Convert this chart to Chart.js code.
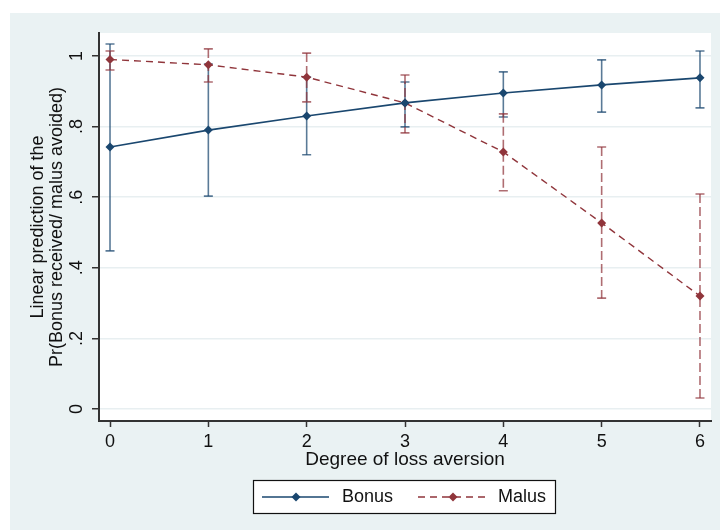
<!DOCTYPE html>
<html>
<head>
<meta charset="utf-8">
<script src="https://cdn.jsdelivr.net/npm/chart.js@4.4.1/dist/chart.umd.min.js"></script>
<style>
  html, body { margin: 0; padding: 0; background: #ffffff; }
  #wrap { width: 720px; height: 530px; }
</style>
</head>
<body>
<div id="wrap"><canvas id="chart" width="720" height="530"></canvas></div>
<script>
// values
const lossAversion = [0, 1, 2, 3, 4, 5, 6];
const bonusPred = [0.742, 0.790, 0.830, 0.867, 0.895, 0.918, 0.938];
const bonusLow  = [0.448, 0.603, 0.720, 0.799, 0.827, 0.841, 0.853];
const bonusHigh = [1.034, 0.977, 0.940, 0.926, 0.955, 0.989, 1.014];
const malusPred = [0.990, 0.975, 0.940, 0.867, 0.728, 0.527, 0.320];
const malusLow  = [0.960, 0.926, 0.870, 0.782, 0.618, 0.314, 0.031];
const malusHigh = [1.014, 1.020, 1.008, 0.946, 0.836, 0.742, 0.609];
const xTicks = [0, 1, 2, 3, 4, 5, 6];
const yTicks = [0, 0.2, 0.4, 0.6, 0.8, 1];
const yTickLabels = ["0", ".2", ".4", ".6", ".8", "1"];

const NAVY = "#1a476f";
const MAROON = "#90353b";
const FONT = "'Liberation Sans', Arial, sans-serif";

function toPoints(ys) {
  return lossAversion.map((x, i) => ({ x: x, y: ys[i] }));
}

// gray outer region + white plot region
const backdrop = {
  id: "backdrop",
  beforeDraw(chart) {
    const ctx = chart.ctx;
    const a = chart.chartArea;
    ctx.save();
    ctx.fillStyle = "#ffffff";
    ctx.fillRect(0, 0, chart.width, chart.height);
    ctx.fillStyle = "#eaf2f3";
    ctx.fillRect(10, 13, chart.width - 10, chart.height - 13);
    ctx.fillStyle = "#ffffff";
    ctx.fillRect(a.left, a.top, a.right - a.left, a.bottom - a.top);
    ctx.restore();
  }
};

// confidence interval caps drawn through the scales
const ciBars = {
  id: "ciBars",
  beforeDatasetsDraw(chart) {
    const ctx = chart.ctx;
    const xs = chart.scales.x;
    const ys = chart.scales.y;
    const sets = [
      { low: bonusLow, high: bonusHigh, color: "rgba(26,71,111,0.72)", dash: [] },
      { low: malusLow, high: malusHigh, color: "rgba(144,53,59,0.72)", dash: [9, 4] }
    ];
    ctx.save();
    sets.forEach(s => {
      ctx.strokeStyle = s.color;
      ctx.lineWidth = 1.6;
      lossAversion.forEach((x, i) => {
        const px = xs.getPixelForValue(x);
        const y1 = ys.getPixelForValue(s.high[i]);
        const y2 = ys.getPixelForValue(s.low[i]);
        ctx.setLineDash(s.dash);
        ctx.beginPath();
        ctx.moveTo(px, y1);
        ctx.lineTo(px, y2);
        ctx.stroke();
        ctx.setLineDash([]);
        ctx.beginPath();
        ctx.moveTo(px - 4.5, y1);
        ctx.lineTo(px + 4.5, y1);
        ctx.moveTo(px - 4.5, y2);
        ctx.lineTo(px + 4.5, y2);
        ctx.stroke();
      });
    });
    ctx.restore();
  }
};

// axis titles and boxed legend
const labels = {
  id: "labels",
  afterDraw(chart) {
    const ctx = chart.ctx;
    const a = chart.chartArea;
    ctx.save();
    ctx.fillStyle = "#111111";
    ctx.textBaseline = "middle";
    ctx.textAlign = "center";
    ctx.font = "19px " + FONT;
    ctx.fillText("Degree of loss aversion", (a.left + a.right) / 2, 460);

    ctx.save();
    ctx.translate(38, (a.top + a.bottom) / 2);
    ctx.rotate(-Math.PI / 2);
    ctx.font = "18px " + FONT;
    ctx.fillText("Linear prediction of the", 0, 0);
    ctx.fillText("Pr(Bonus received/ malus avoided)", 0, 19);
    ctx.restore();

    // legend box
    ctx.fillStyle = "#ffffff";
    ctx.fillRect(253, 480, 302, 33);
    ctx.strokeStyle = "#111111";
    ctx.lineWidth = 1.2;
    ctx.strokeRect(253.5, 480.5, 302, 33);

    const ly = 497;
    ctx.lineWidth = 1.5;
    ctx.strokeStyle = NAVY;
    ctx.beginPath();
    ctx.moveTo(262, ly);
    ctx.lineTo(329, ly);
    ctx.stroke();
    ctx.strokeStyle = MAROON;
    ctx.setLineDash([7, 5]);
    ctx.beginPath();
    ctx.moveTo(418, ly);
    ctx.lineTo(488, ly);
    ctx.stroke();
    ctx.setLineDash([]);
    [[296, NAVY], [453, MAROON]].forEach(m => {
      ctx.fillStyle = m[1];
      ctx.beginPath();
      ctx.moveTo(m[0], ly - 4.5);
      ctx.lineTo(m[0] + 4.5, ly);
      ctx.lineTo(m[0], ly + 4.5);
      ctx.lineTo(m[0] - 4.5, ly);
      ctx.closePath();
      ctx.fill();
    });
    ctx.fillStyle = "#111111";
    ctx.textAlign = "left";
    ctx.font = "18px " + FONT;
    ctx.fillText("Bonus", 342, ly);
    ctx.fillText("Malus", 498, ly);
    ctx.restore();
  }
};

const ctx = document.getElementById("chart").getContext("2d");
new Chart(ctx, {
  type: "line",
  data: {
    datasets: [
      {
        label: "Bonus",
        data: toPoints(bonusPred),
        borderColor: NAVY,
        backgroundColor: NAVY,
        borderWidth: 1.6,
        pointStyle: "rectRot",
        pointRadius: 4.5,
        pointBorderWidth: 0,
        tension: 0
      },
      {
        label: "Malus",
        data: toPoints(malusPred),
        borderColor: MAROON,
        backgroundColor: MAROON,
        borderWidth: 1.4,
        borderDash: [7, 5],
        pointStyle: "rectRot",
        pointRadius: 4.5,
        pointBorderWidth: 0,
        tension: 0
      }
    ]
  },
  options: {
    responsive: false,
    animation: false,
    devicePixelRatio: 1,
    layout: { padding: { left: 0, top: 33, right: 9, bottom: 0 } },
    plugins: {
      legend: { display: false },
      tooltip: { enabled: false }
    },
    scales: {
      x: {
        type: "linear",
        min: -0.112,
        max: 6.112,
        afterBuildTicks: s => { s.ticks = xTicks.map(v => ({ value: v })); },
        afterFit: s => { s.height = 109; },
        grid: {
          display: true,
          drawOnChartArea: false,
          drawTicks: true,
          tickLength: 6,
          tickColor: "#333333",
          tickWidth: 1.5
        },
        border: { display: true, color: "#333333", width: 2 },
        ticks: {
          color: "#111111",
          font: { family: FONT, size: 18 },
          padding: 4,
          maxRotation: 0,
          callback: v => String(v)
        }
      },
      y: {
        type: "linear",
        min: -0.034,
        max: 1.065,
        afterBuildTicks: s => { s.ticks = yTicks.map(v => ({ value: v })); },
        afterFit: s => { s.width = 99; },
        grid: {
          color: "#e8eff1",
          lineWidth: 1.5,
          drawTicks: true,
          tickLength: 7,
          tickColor: "#333333",
          tickWidth: 1.5
        },
        border: { display: true, color: "#333333", width: 2 },
        ticks: {
          color: "#111111",
          font: { family: FONT, size: 18 },
          padding: 7.5,
          minRotation: 90,
          maxRotation: 90,
          crossAlign: "center",
          callback: v => {
            const i = yTicks.findIndex(t => Math.abs(t - v) < 1e-9);
            return i >= 0 ? yTickLabels[i] : "";
          }
        }
      }
    }
  },
  plugins: [backdrop, ciBars, labels]
});
</script>
</body>
</html>
